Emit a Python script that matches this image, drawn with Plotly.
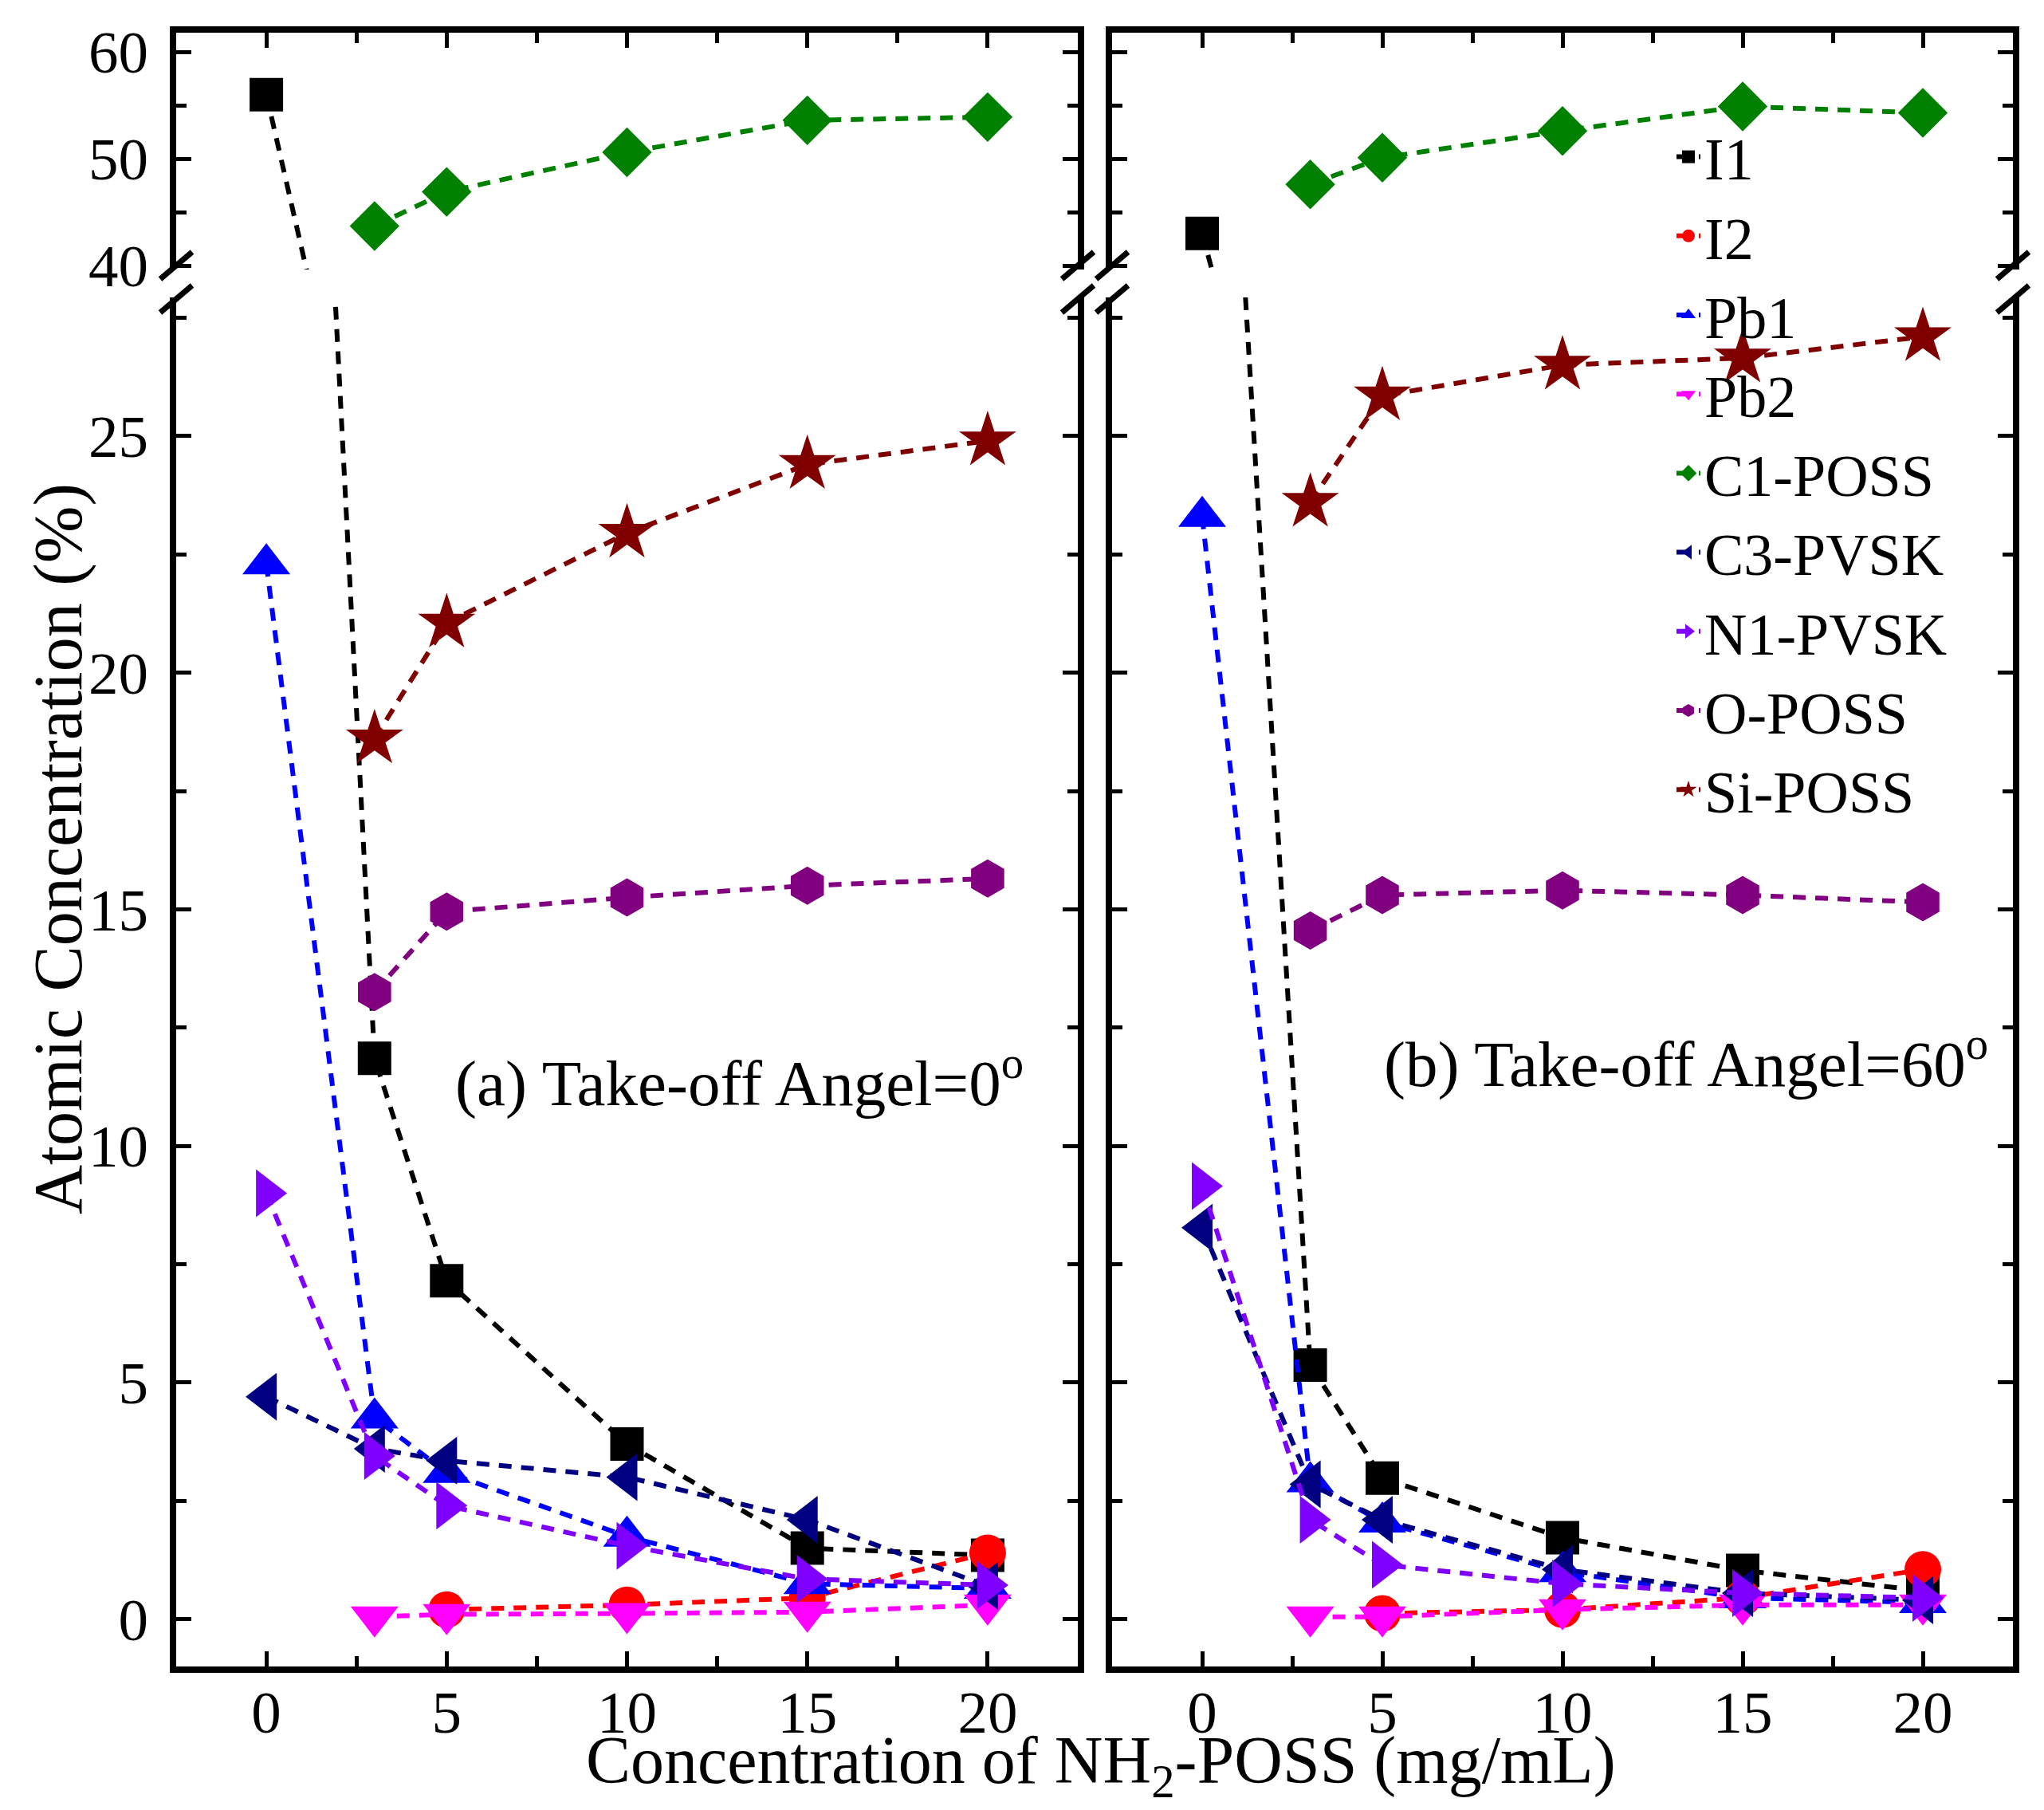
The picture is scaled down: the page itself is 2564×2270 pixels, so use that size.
import plotly.graph_objects as go

# ---------------- data ----------------
conc = [0, 3, 5, 10, 15, 20]

series_names = ["I1", "I2", "Pb1", "Pb2", "C1-POSS", "C3-PVSK", "N1-PVSK", "O-POSS", "Si-POSS"]

# (a) Take-off angle = 0 deg
a_I1 = [56.0, 11.85, 7.15, 3.7, 1.5, 1.35]
a_I2 = [None, None, 0.2, 0.3, 0.45, 1.4]
a_Pb1 = [22.3, 4.25, 3.1, 1.75, 0.75, 0.65]
a_Pb2 = [None, 0.05, 0.1, 0.12, 0.15, 0.3]
a_C1 = [None, 43.7, 46.9, 50.6, 53.6, 53.9]
a_C3 = [4.7, 3.6, 3.35, 3.0, 2.1, 0.7]
a_N1 = [9.0, 3.45, 2.4, 1.55, 0.85, 0.72]
a_O = [None, 13.25, 14.95, 15.25, 15.5, 15.65]
a_Si = [None, 18.6, 21.05, 22.95, 24.4, 24.9]

# (b) Take-off angle = 60 deg
b_I1 = [43.0, 5.37, 2.98, 1.72, 1.03, 0.6]
b_I2 = [None, None, 0.12, 0.2, 0.45, 1.05]
b_Pb1 = [23.3, 2.9, 2.05, 1.0, 0.45, 0.35]
b_Pb2 = [None, 0.05, 0.05, 0.2, 0.3, 0.3]
b_C1 = [None, 47.6, 50.1, 52.6, 54.9, 54.3]
b_C3 = [8.27, 2.85, 2.1, 1.05, 0.55, 0.4]
b_N1 = [9.15, 2.1, 1.15, 0.75, 0.55, 0.45]
b_O = [None, 14.55, 15.3, 15.4, 15.3, 15.15]
b_Si = [None, 23.6, 25.85, 26.5, 26.65, 27.1]

panel_a = [a_I1, a_I2, a_Pb1, a_Pb2, a_C1, a_C3, a_N1, a_O, a_Si]
panel_b = [b_I1, b_I2, b_Pb1, b_Pb2, b_C1, b_C3, b_N1, b_O, b_Si]

x_ticks = [0, 5, 10, 15, 20]
y_low_ticks = [0, 5, 10, 15, 20, 25]
y_high_ticks = [40, 50, 60]

# ---------------- styles ----------------
colors = ["#000000", "#FF0000", "#0000FF", "#FF00FF", "#008000",
          "#000080", "#8000FF", "#800080", "#800000"]
symbols = ["square", "circle", "triangle-up", "triangle-down", "diamond",
           "triangle-left", "triangle-right", "hexagon", "star"]
sizes = [42, 46, 52, 52, 48, 52, 52, 48, 54]

FONT = "Liberation Serif, Times New Roman, serif"
W, H = 2564, 2270
L, R, T, B = 213, 47, 33, 188
PW, PH = W - L - R, H - T - B

def px_x(p):
    return (p - L) / PW

def px_y(p):
    return (H - B - p) / PH

dom_left = [0, px_x(1344)]
dom_right = [px_x(1387), 1]
dom_low = [0, px_y(365)]
dom_high = [px_y(330), 1]

fig = go.Figure()

# axes: (xaxis, yaxis) for panel a low, a high, b low, b high
subplots = [("x", "y", panel_a, True), ("x2", "y2", panel_a, False),
            ("x3", "y3", panel_b, False), ("x4", "y4", panel_b, False)]

for xa, ya, data, show in subplots:
    for i, name in enumerate(series_names):
        fig.add_trace(go.Scatter(
            x=conc, y=data[i], name=name, legendgroup=name, showlegend=show,
            mode="lines+markers", xaxis=xa, yaxis=ya, connectgaps=True,
            line=dict(color=colors[i], width=6, dash="16px,12px"),
            marker=dict(symbol=symbols[i], size=sizes[i], color=colors[i],
                        line=dict(width=0)),
            cliponaxis=True,
        ))

tickfont = dict(family=FONT, size=75, color="black")
common_x = dict(range=[-2.5, 22.5], tickvals=x_ticks, ticks="inside", ticklen=19,
                tickwidth=5, tickcolor="black", showline=True, linewidth=8,
                linecolor="black", showgrid=False, zeroline=False,
                minor=dict(dtick=2.5, tick0=0, ticks="inside", ticklen=13,
                           tickwidth=5, tickcolor="black"),
                tickfont=tickfont, ticklabelstandoff=-15)
common_y = dict(ticks="inside", ticklen=19, tickwidth=5, tickcolor="black",
                showline=True, linewidth=8, linecolor="black", showgrid=False,
                zeroline=False, mirror="ticks", tickfont=tickfont,
                ticklabelstandoff=12)

fig.update_layout(
    width=W, height=H,
    margin=dict(l=L, r=R, t=T, b=B, pad=0),
    paper_bgcolor="white", plot_bgcolor="white",
    font=dict(family=FONT, color="black"),
    xaxis=dict(domain=dom_left, anchor="y", **common_x),
    xaxis2=dict(domain=dom_left, anchor="y2", side="top", showticklabels=False, **common_x),
    xaxis3=dict(domain=dom_right, anchor="y3", **common_x),
    xaxis4=dict(domain=dom_right, anchor="y4", side="top", showticklabels=False, **common_x),
    yaxis=dict(domain=dom_low, anchor="x", range=[-1, 27.93], tickvals=y_low_ticks,
               minor=dict(dtick=2.5, tick0=0, ticks="inside", ticklen=13, tickwidth=5,
                          tickcolor="black"), **common_y),
    yaxis2=dict(domain=dom_high, anchor="x2", range=[39.63, 61.8], tickvals=y_high_ticks,
                minor=dict(dtick=5, tick0=40, ticks="inside", ticklen=13, tickwidth=5,
                           tickcolor="black"), **common_y),
    yaxis3=dict(domain=dom_low, anchor="x3", range=[-1, 27.93], tickvals=y_low_ticks,
                showticklabels=False,
                minor=dict(dtick=2.5, tick0=0, ticks="inside", ticklen=13, tickwidth=5,
                           tickcolor="black"), **common_y),
    yaxis4=dict(domain=dom_high, anchor="x4", range=[39.63, 61.8], tickvals=y_high_ticks,
                showticklabels=False,
                minor=dict(dtick=5, tick0=40, ticks="inside", ticklen=13, tickwidth=5,
                           tickcolor="black"), **common_y),
    legend=dict(x=px_x(2090), y=px_y(134), xanchor="left", yanchor="top",
                bgcolor="rgba(0,0,0,0)", borderwidth=0, tracegroupgap=0,
                font=dict(family=FONT, size=74, color="black"), itemwidth=30),
    showlegend=True,
)

annotations = [
    dict(text="Atomic Concentration (%)", x=px_x(65), y=px_y(1057), xref="paper",
         yref="paper", textangle=-90, showarrow=False, xanchor="center", yanchor="middle",
         font=dict(family=FONT, size=86, color="black")),
    dict(text="Concentration of NH<sub>2</sub>-POSS (mg/mL)", x=px_x(1373), y=px_y(2206),
         xref="paper", yref="paper", showarrow=False, xanchor="center", yanchor="middle",
         font=dict(family=FONT, size=84, color="black")),
    dict(text="(a) Take-off Angel=0<sup>o</sup>", x=px_x(1278), y=px_y(1344), xref="paper",
         yref="paper", showarrow=False, xanchor="right", yanchor="middle",
         font=dict(family=FONT, size=81, color="black")),
    dict(text="(b) Take-off Angel=60<sup>o</sup>", x=px_x(2488), y=px_y(1320), xref="paper",
         yref="paper", showarrow=False, xanchor="right", yanchor="middle",
         font=dict(family=FONT, size=81, color="black")),
]
fig.update_layout(annotations=annotations)

# axis-break marks
shapes = []
for xp in [213, 1344, 1387, 2517]:
    for yc in [325, 367]:
        shapes.append(dict(type="line", xref="paper", yref="paper",
                           x0=px_x(xp - 20), y0=px_y(yc + 17),
                           x1=px_x(xp + 20), y1=px_y(yc - 17),
                           line=dict(color="black", width=7)))
fig.update_layout(shapes=shapes)

fig.write_html("out.html")
